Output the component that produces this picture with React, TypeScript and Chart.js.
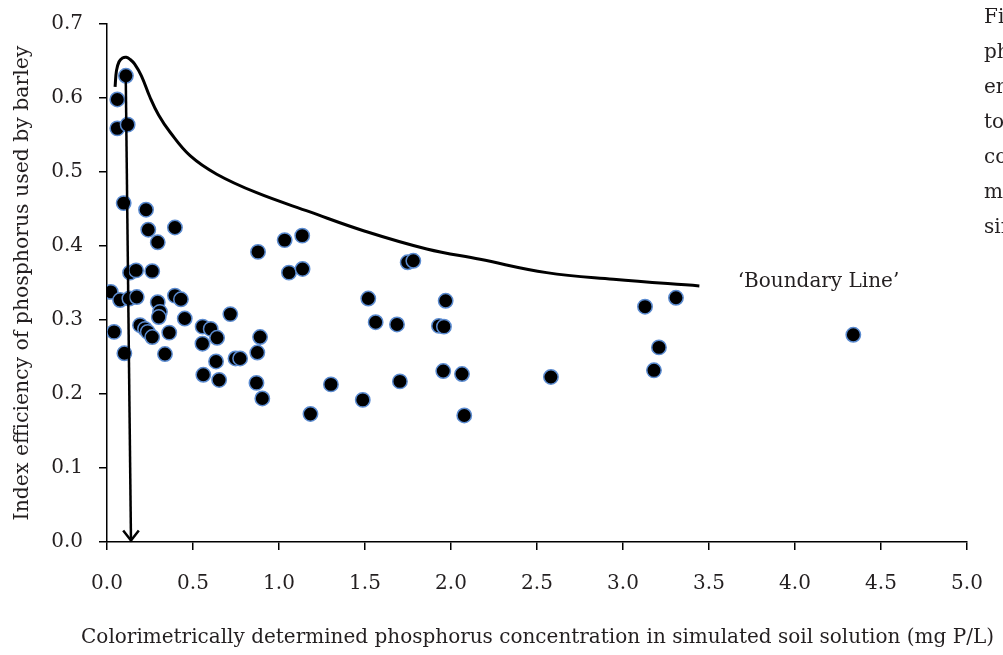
import React, { useEffect, useRef } from 'react';
import { Chart, registerables } from 'chart.js';

Chart.register(...registerables);

// ---- Data ----
const pointX = [
  0.110, 0.060, 0.060, 0.120, 0.097, 0.227, 0.240, 0.395, 0.295, 0.878,
  1.033, 1.135, 1.058, 1.137, 0.134, 0.169, 0.263, 0.022, 0.076, 0.130,
  0.173, 0.295, 0.308, 0.301, 0.395, 0.430, 0.452, 0.192, 0.221, 0.237,
  0.263, 0.362, 0.041, 0.101, 0.337, 0.556, 0.603, 0.640, 0.555, 0.717,
  0.634, 0.560, 0.652, 0.747, 0.774, 0.890, 0.874, 0.869, 0.903, 1.183,
  1.302, 1.487, 1.519, 1.562, 1.686, 1.703, 1.748, 1.781, 1.969, 1.930,
  1.959, 1.955, 2.064, 2.077, 2.581, 3.128, 3.308, 3.209, 3.180, 4.339,
];
const pointY = [
  0.630, 0.598, 0.559, 0.564, 0.458, 0.449, 0.422, 0.425, 0.405, 0.392,
  0.408, 0.414, 0.364, 0.369, 0.364, 0.367, 0.366, 0.338, 0.327, 0.329,
  0.331, 0.324, 0.311, 0.304, 0.333, 0.328, 0.302, 0.293, 0.288, 0.284,
  0.277, 0.283, 0.284, 0.255, 0.254, 0.291, 0.288, 0.276, 0.268, 0.308,
  0.244, 0.226, 0.219, 0.248, 0.248, 0.277, 0.256, 0.215, 0.194, 0.173,
  0.213, 0.192, 0.329, 0.297, 0.294, 0.217, 0.378, 0.380, 0.326, 0.292,
  0.291, 0.231, 0.227, 0.171, 0.223, 0.318, 0.330, 0.263, 0.232, 0.280,
];

const boundaryX = [
  0.047, 0.055, 0.070, 0.090, 0.112, 0.135, 0.160, 0.200, 0.250, 0.300,
  0.366, 0.483, 0.638, 0.870, 1.180, 1.500, 1.859, 2.169, 2.556, 2.944, 3.444,
];
const boundaryY = [
  0.615, 0.637, 0.649, 0.654, 0.655, 0.652, 0.646, 0.630, 0.601, 0.577,
  0.554, 0.522, 0.497, 0.472, 0.446, 0.420, 0.396, 0.382, 0.364, 0.355, 0.346,
];

const arrowX = [0.109, 0.1395];
const arrowY = [0.629, 0.002];

const xTickValues = [0, 0.5, 1, 1.5, 2, 2.5, 3, 3.5, 4, 4.5, 5];
const yTickValues = [0, 0.1, 0.2, 0.3, 0.4, 0.5, 0.6, 0.7];

const xTitle = 'Colorimetrically determined phosphorus concentration in simulated soil solution (mg P/L)';
const yTitle = 'Index efficiency of phosphorus used by barley';
const boundaryLabel = '\u2018Boundary Line\u2019';
const boundaryLabelPos = { x: 3.667, y: 0.351 };
const captionFragments = ['Fig', 'pho', 'er', 'tot', 'con', 'm', 'sim'];

const FONT = '"DejaVu Serif", "Liberation Serif", serif';
const TEXT = '#231f20';

export default function App() {
  const canvasRef = useRef<HTMLCanvasElement | null>(null);

  useEffect(() => {
    const canvas = canvasRef.current;
    if (!canvas) return;

    const extras = {
      id: 'extras',
      afterDatasetsDraw(chart: any) {
        const { ctx, scales } = chart;
        const x = scales.x;
        const y = scales.y;
        ctx.save();
        // arrow head
        const tx = x.getPixelForValue(arrowX[1]);
        const ty = y.getPixelForValue(arrowY[1]);
        ctx.strokeStyle = '#000';
        ctx.lineWidth = 2.5;
        ctx.lineJoin = 'miter';
        ctx.beginPath();
        ctx.moveTo(tx - 7.8, ty - 10);
        ctx.lineTo(tx, ty);
        ctx.lineTo(tx + 7.8, ty - 10);
        ctx.stroke();
        // boundary label
        ctx.font = `20px ${FONT}`;
        ctx.fillStyle = TEXT;
        ctx.textAlign = 'left';
        ctx.textBaseline = 'middle';
        ctx.fillText(boundaryLabel, x.getPixelForValue(boundaryLabelPos.x), y.getPixelForValue(boundaryLabelPos.y));
        // x axis title (drawn without width compression)
        ctx.textAlign = 'center';
        ctx.fillText(xTitle, 537.5, 638);
        // cut-off caption at right edge
        ctx.textAlign = 'left';
        ctx.textBaseline = 'alphabetic';
        captionFragments.forEach((s, i) => {
          ctx.fillText(s, 984, 23 + i * 35);
        });
        ctx.restore();
      },
    };

    const chart = new Chart(canvas, {
      type: 'scatter',
      data: {
        datasets: [
          {
            label: 'arrow',
            type: 'line',
            data: arrowX.map((v, i) => ({ x: v, y: arrowY[i] })),
            borderColor: '#000',
            borderWidth: 2.5,
            pointRadius: 0,
            fill: false,
            order: 0,
          } as any,
          {
            label: 'points',
            data: pointX.map((v, i) => ({ x: v, y: pointY[i] })),
            backgroundColor: '#000',
            borderColor: '#5b8bd0',
            borderWidth: 1.5,
            pointRadius: 7.2,
            pointHoverRadius: 7.2,
            order: 1,
          },
          {
            label: 'boundary',
            type: 'line',
            data: boundaryX.map((v, i) => ({ x: v, y: boundaryY[i] })),
            borderColor: '#000',
            borderWidth: 3,
            pointRadius: 0,
            fill: false,
            tension: 0.4,
            order: 2,
          } as any,
        ],
      },
      options: {
        animation: false,
        responsive: false,
        devicePixelRatio: 1,
        layout: { padding: { top: 24, right: 36, left: 0, bottom: 0 } },
        plugins: {
          legend: { display: false },
          tooltip: { enabled: false },
        },
        scales: {
          x: {
            type: 'linear',
            min: 0,
            max: 5,
            afterFit: (s: any) => {
              s.height = 113;
              s.paddingLeft = 0;
              s.paddingRight = 0;
            },
            afterBuildTicks: (s: any) => { s.ticks = xTickValues.map((v) => ({ value: v })); },
            ticks: {
              callback: (v: any) => Number(v).toFixed(1),
              font: { family: FONT, size: 20 },
              color: TEXT,
              padding: 22,
              maxRotation: 0,
              autoSkip: false,
            },
            grid: {
              drawOnChartArea: false,
              drawTicks: true,
              tickLength: 8,
              color: '#000',
              lineWidth: 1.5,
            },
            border: { color: '#000', width: 1.5 },
            title: { display: false, text: xTitle },
          },
          y: {
            type: 'linear',
            min: 0,
            max: 0.7,
            afterFit: (s: any) => {
              s.width = 107;
              s.paddingTop = 0;
              s.paddingBottom = 0;
            },
            afterBuildTicks: (s: any) => { s.ticks = yTickValues.map((v) => ({ value: v })); },
            ticks: {
              callback: (v: any) => Number(v).toFixed(1),
              font: { family: FONT, size: 20 },
              color: TEXT,
              padding: 16,
              autoSkip: false,
            },
            grid: {
              drawOnChartArea: false,
              drawTicks: true,
              tickLength: 8,
              color: '#000',
              lineWidth: 1.5,
            },
            border: { color: '#000', width: 1.5 },
            title: {
              display: true,
              text: yTitle,
              font: { family: FONT, size: 20.4 },
              color: TEXT,
              padding: { top: 10, bottom: 0 },
            },
          },
        },
      },
      plugins: [extras],
    });

    return () => chart.destroy();
  }, []);

  return (
    <div style={{ position: 'absolute', left: 0, top: 0, width: 1003, height: 655, background: '#fff' }}>
      <canvas ref={canvasRef} width={1003} height={655} />
    </div>
  );
}
